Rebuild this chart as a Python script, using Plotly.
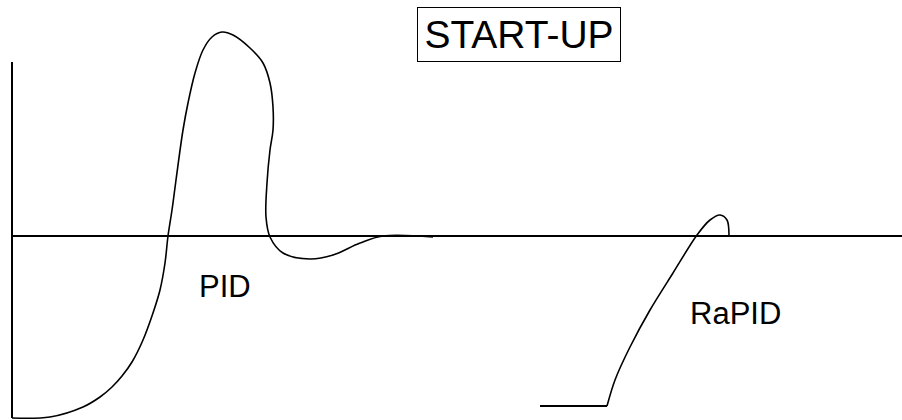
import plotly.graph_objects as go

# PID start-up response (x = time units, y = deviation from setpoint)
pid_x = [12, 50, 83, 100, 112, 122, 132, 143, 153, 160, 165, 168, 172, 176, 183, 188, 195, 203, 212,
         222, 233, 250, 263, 270, 273, 273, 270, 267, 266, 270, 283, 310, 333, 360, 383, 433]
pid_y = [-182, -181, -171, -161, -151, -140, -126, -104, -77, -54, -27, 0, 26, 56, 106, 133, 163, 186,
         199, 204, 201, 188, 173, 153, 129, 106, 86, 53, 19, -1, -17, -23, -19, -7, 0, -1]

# RaPID start-up response
rapid_flat_x = [540, 607]
rapid_flat_y = [-170, -170]
rapid_x = [607, 615, 630, 650, 673, 697, 710, 720, 727, 729]
rapid_y = [-170, -144, -111, -74, -37, 1, 16, 21, 16, 1]

# axes of the sketch
vaxis_x = [12, 12]
vaxis_y = [174, -182]
haxis_x = [12, 902]
haxis_y = [0, 0]

FONT = "Arial, Liberation Sans, sans-serif"

fig = go.Figure()
fig.add_trace(go.Scatter(x=vaxis_x, y=vaxis_y, mode="lines", line=dict(color="black", width=2)))
fig.add_trace(go.Scatter(x=haxis_x, y=haxis_y, mode="lines", line=dict(color="black", width=2)))
fig.add_trace(go.Scatter(x=pid_x, y=pid_y, mode="lines",
                         line=dict(color="black", width=1.6, shape="spline", smoothing=1.0)))
fig.add_trace(go.Scatter(x=rapid_flat_x, y=rapid_flat_y, mode="lines",
                         line=dict(color="black", width=2)))
fig.add_trace(go.Scatter(x=rapid_x, y=rapid_y, mode="lines",
                         line=dict(color="black", width=1.6, shape="spline", smoothing=0.9)))

fig.add_annotation(x=519, y=201.5, text="START-UP", showarrow=False,
                   font=dict(family=FONT, size=39, color="black"),
                   width=198, height=49,
                   bordercolor="black", borderwidth=1, borderpad=2)
fig.add_annotation(x=225, y=-50, text="PID", showarrow=False,
                   font=dict(family=FONT, size=31, color="black"))
fig.add_annotation(x=735, y=-77, text="RaPID", showarrow=False,
                   font=dict(family=FONT, size=31, color="black"))

fig.update_layout(
    width=902, height=420,
    margin=dict(l=0, r=0, t=0, b=0),
    paper_bgcolor="white", plot_bgcolor="white",
    showlegend=False,
    xaxis=dict(range=[0, 902], visible=False, fixedrange=True),
    yaxis=dict(range=[-184, 236], visible=False, fixedrange=True),
)
# drop the browser's default body margin so the figure sits at the page origin
fig.write_html("out.html", config={"displayModeBar": False},
               post_script="document.body.style.margin='0';")
